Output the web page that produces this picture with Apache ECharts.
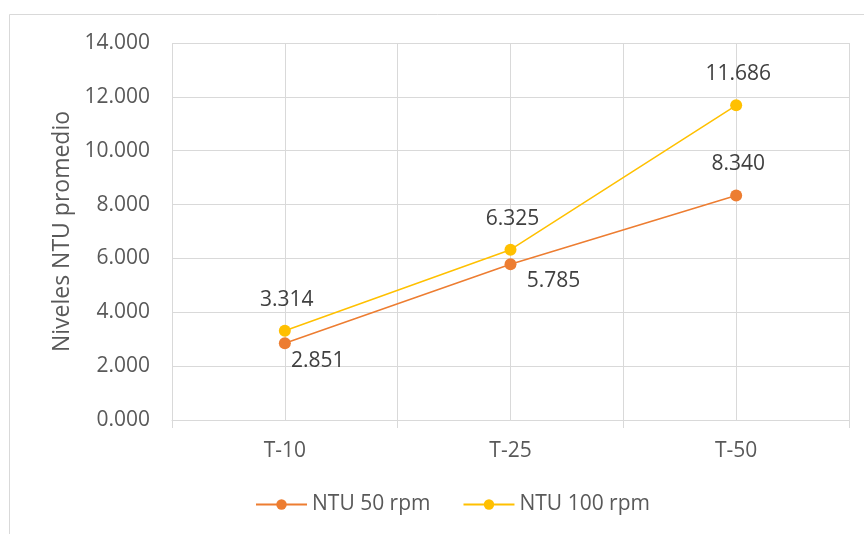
<!DOCTYPE html>
<html>
<head>
<meta charset="utf-8">
<script src="https://cdn.jsdelivr.net/npm/echarts@6/dist/echarts.min.js"></script>
<style>
  html, body { margin: 0; padding: 0; background: #ffffff; }
  #chart { width: 864px; height: 534px; }
</style>
</head>
<body>
<div id="chart"></div>
<script>
// Average turbidity per sample, for two stirring speeds
const categories = ['T-10', 'T-25', 'T-50'];
const ntu50 = [2.851, 5.785, 8.340];
const ntu100 = [3.314, 6.325, 11.686];
const seriesNames = ['NTU 50 rpm', 'NTU 100 rpm'];
const yTicks = { min: 0, max: 14, interval: 2 };
const yTitle = 'Niveles NTU promedio';

const FONT = '"Open Sans", "Liberation Sans", sans-serif';
const TEXT = '#595959';
const GRID = '#d9d9d9';
const FS = 21;

// Label placement for each point (offset from the marker centre)
const offs50 = [[33, 18], [43, 17], [2, -31]];
const offs100 = [[2, -31], [2, -31], [2, -31]];

function withLabels(values, offs) {
  return values.map((v, i) => ({
    value: v,
    label: { position: 'inside', offset: offs[i] }
  }));
}

const chart = echarts.init(document.getElementById('chart'), null, { renderer: 'canvas' });

chart.setOption({
  backgroundColor: '#ffffff',
  animation: false,
  textStyle: { fontFamily: FONT },
  graphic: [{
    type: 'rect',
    shape: { x: 9.5, y: 14.5, width: 900, height: 600 },
    style: { fill: 'none', stroke: GRID, lineWidth: 1 },
    silent: true,
    z: -10
  }],
  grid: { left: 172, right: 15, top: 43, bottom: 114, containLabel: false },
  legend: {
    bottom: 14,
    left: 250,
    itemWidth: 51,
    itemHeight: 13,
    itemGap: 32,
    textStyle: { color: TEXT, fontSize: FS, fontFamily: FONT },
    data: seriesNames
  },
  xAxis: [{
    type: 'category',
    data: categories,
    boundaryGap: true,
    axisLine: { show: true, lineStyle: { color: GRID, width: 1 } },
    axisTick: { show: true, length: 8, lineStyle: { color: GRID } },
    axisLabel: { color: TEXT, fontSize: FS, fontFamily: FONT, margin: 21 },
    splitLine: { show: false }
  }, {
    // half-category grid for the vertical gridlines
    type: 'category',
    data: ['', '', '', '', '', ''],
    boundaryGap: true,
    position: 'bottom',
    axisLine: { show: false },
    axisTick: { show: false },
    axisLabel: { show: false },
    splitLine: { show: true, interval: 0, lineStyle: { color: GRID, width: 1 } }
  }],
  yAxis: {
    type: 'value',
    min: yTicks.min,
    max: yTicks.max,
    interval: yTicks.interval,
    name: yTitle,
    nameLocation: 'middle',
    nameGap: 98,
    nameRotate: 90,
    nameTextStyle: { color: TEXT, fontSize: 23, fontFamily: FONT },
    axisLine: { show: false },
    axisTick: { show: false },
    axisLabel: {
      color: TEXT, fontSize: FS, fontFamily: FONT, margin: 22,
      formatter: v => v.toFixed(3)
    },
    splitLine: { show: true, lineStyle: { color: GRID, width: 1 } }
  },
  series: [{
    name: seriesNames[0],
    type: 'line',
    xAxisIndex: 0,
    data: withLabels(ntu50, offs50),
    color: '#ED7D31',
    lineStyle: { width: 1.5, color: '#ED7D31' },
    symbol: 'circle',
    symbolSize: 12,
    itemStyle: { color: '#ED7D31' },
    label: {
      show: true, color: '#404040', fontSize: FS, fontFamily: FONT,
      formatter: p => p.value.toFixed(3)
    },
    z: 3
  }, {
    name: seriesNames[1],
    type: 'line',
    xAxisIndex: 0,
    data: withLabels(ntu100, offs100),
    color: '#FFC000',
    lineStyle: { width: 1.5, color: '#FFC000' },
    symbol: 'circle',
    symbolSize: 12,
    itemStyle: { color: '#FFC000' },
    label: {
      show: true, color: '#404040', fontSize: FS, fontFamily: FONT,
      formatter: p => p.value.toFixed(3)
    },
    z: 4
  }]
});
</script>
</body>
</html>
